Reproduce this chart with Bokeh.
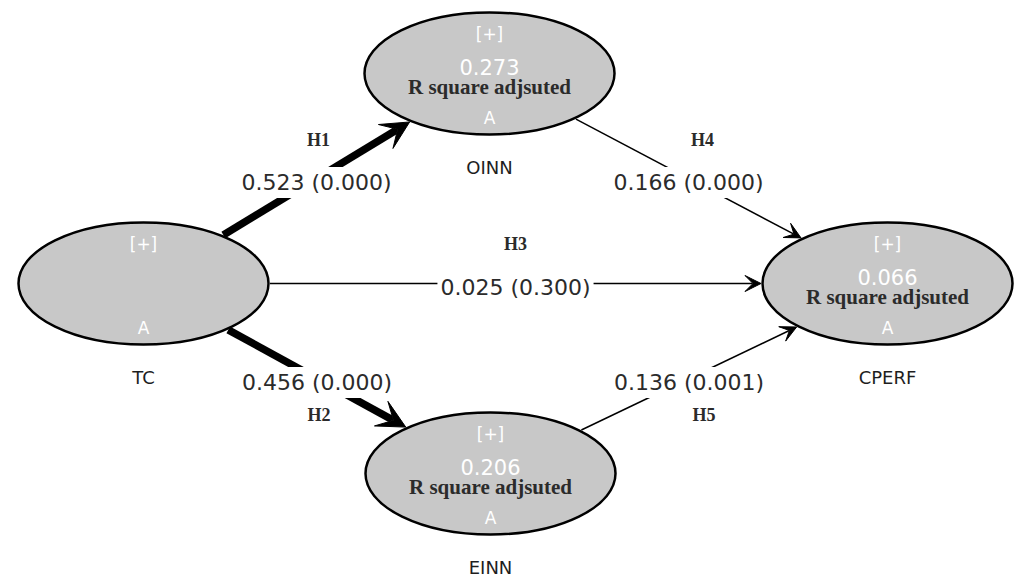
import numpy as np
from bokeh.plotting import figure
from bokeh.models import Range1d, Arrow, VeeHead, ColumnDataSource
from bokeh.core.properties import value
from bokeh.embed import file_html
from bokeh.resources import INLINE

# ---------------- data ----------------
node_names = ["TC", "OINN", "CPERF", "EINN"]
node_x = [143, 489, 887, 490]
node_y = [296, 506, 296, 106]
node_r2 = ["", "0.273", "0.066", "0.206"]
node_r2_label = ["", "R square adjsuted", "R square adjsuted", "R square adjsuted"]

edge_from = ["TC", "TC", "TC", "OINN", "EINN"]
edge_to = ["OINN", "EINN", "CPERF", "CPERF", "CPERF"]
edge_hyp = ["H1", "H2", "H3", "H4", "H5"]
edge_coef = [0.523, 0.456, 0.025, 0.166, 0.136]
edge_p = [0.000, 0.000, 0.300, 0.000, 0.001]

# ---------------- style ----------------
W, H = 1017, 579
ELL_W, ELL_H = 250, 122
FILL = "#c8c8c8"
TXT = "#2b2b2b"
SANS = "DejaVu Sans"
SERIF = "Liberation Serif"
hyp_dx = [2, 2, 0, 14, 15]
hyp_dy = [39, -36, 40, 39, -36]

p = figure(width=W, height=H, output_backend="svg", toolbar_location=None,
           x_range=Range1d(0, W), y_range=Range1d(0, H),
           min_border=0)
p.axis.visible = False
p.grid.visible = False
p.outline_line_color = None
p.background_fill_color = "white"
p.border_fill_color = "white"

nodes = ColumnDataSource(dict(x=node_x, y=node_y))
p.ellipse(x="x", y="y", width=ELL_W, height=ELL_H, source=nodes,
          fill_color=FILL, line_color="black", line_width=2.5)

ny = np.array(node_y, dtype=float)
nx = np.array(node_x, dtype=float)
p.text(x=node_x, y=list(ny + 40), text=["[+]"] * 4, text_color="white",
       text_font=value(SANS), text_font_size="17px",
       text_align="center", text_baseline="middle")
p.text(x=node_x, y=list(ny + 7), text=node_r2, text_color="white",
       text_font=value(SANS), text_font_size="21px",
       text_align="center", text_baseline="middle")
p.text(x=node_x, y=list(ny - 13), text=node_r2_label, text_color=TXT,
       text_font=value(SERIF), text_font_style="bold",
       text_font_size="21px", text_align="center", text_baseline="middle")
p.text(x=node_x, y=list(ny - 44), text=["A"] * 4, text_color="white",
       text_font=value(SANS), text_font_size="17px",
       text_align="center", text_baseline="middle")
p.text(x=node_x, y=list(ny - 94), text=node_names, text_color="#1e1e1e",
       text_font=value(SANS), text_font_size="18px",
       text_align="center", text_baseline="middle")

# ---------------- edges ----------------
idx = {n: i for i, n in enumerate(node_names)}
a_half = ELL_W / 2 + 1.5
b_half = ELL_H / 2 + 1.5
mid_x, mid_y, hx, hy, labels = [], [], [], [], []
for k in range(len(edge_from)):
    i, j = idx[edge_from[k]], idx[edge_to[k]]
    x1, y1, x2, y2 = nx[i], ny[i], nx[j], ny[j]
    dx, dy = x2 - x1, y2 - y1
    t = 1.0 / np.sqrt((dx / a_half) ** 2 + (dy / b_half) ** 2)
    sx, sy = x1 + t * dx, y1 + t * dy
    ex, ey = x2 - t * dx, y2 - t * dy
    thick = edge_coef[k] > 0.3
    lw = 7.5 if thick else 1.5
    head = VeeHead(size=28 if thick else 16, fill_color="black",
                   line_color="black", line_width=1)
    src = ColumnDataSource(dict(x0=[sx], y0=[sy], x1=[ex], y1=[ey]))
    p.add_layout(Arrow(end=head, x_start="x0", y_start="y0", x_end="x1",
                       y_end="y1", source=src, line_color="black",
                       line_width=lw))
    mid_x.append((x1 + x2) / 2)
    mid_y.append((y1 + y2) / 2 - 4)
    hx.append((x1 + x2) / 2 + hyp_dx[k])
    hy.append((y1 + y2) / 2 + hyp_dy[k])
    labels.append(f"{edge_coef[k]:.3f} ({edge_p[k]:.3f})")

r = p.text(x=mid_x, y=mid_y, text=labels, text_color=TXT,
           text_font=value(SANS), text_font_size="22px",
           text_align="center", text_baseline="middle",
           background_fill_color="white", padding=3)
r.level = "overlay"
r2 = p.text(x=hx, y=hy, text=edge_hyp, text_color=TXT,
            text_font=value(SERIF), text_font_style="bold",
            text_font_size="18px", text_align="center", text_baseline="middle")
r2.level = "overlay"

open("out.html", "w").write(file_html(p, INLINE))
